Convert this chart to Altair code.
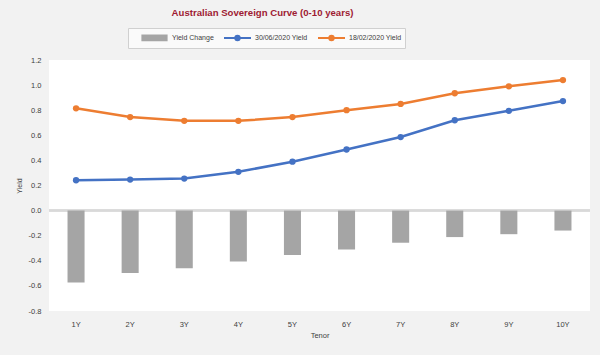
import altair as alt
import pandas as pd

tenors = ["1Y", "2Y", "3Y", "4Y", "5Y", "6Y", "7Y", "8Y", "9Y", "10Y"]
yield_jun = [0.242, 0.247, 0.255, 0.309, 0.39, 0.487, 0.586, 0.72, 0.795, 0.873]
yield_feb = [0.815, 0.745, 0.715, 0.715, 0.745, 0.80, 0.85, 0.935, 0.99, 1.04]
change = [-0.573, -0.497, -0.46, -0.406, -0.354, -0.31, -0.256, -0.211, -0.188, -0.159]
y_ticks = [-0.8, -0.6, -0.4, -0.2, 0.0, 0.2, 0.4, 0.6, 0.8, 1.0, 1.2]

series_names = ["Yield Change", "30/06/2020 Yield", "18/02/2020 Yield"]
colors = ["#A5A5A5", "#4472C4", "#ED7D31"]

rows = []
for t, c, j, f in zip(tenors, change, yield_jun, yield_feb):
    rows.append({"tenor": t, "series": series_names[0], "value": c})
    rows.append({"tenor": t, "series": series_names[1], "value": j})
    rows.append({"tenor": t, "series": series_names[2], "value": f})
df = pd.DataFrame(rows)

FONT = "Liberation Sans"
TXT = "#404040"

shape_expr = (
    "datum.value === 'Yield Change' ? 'M-2.4,-0.45H2.4V0.45H-2.4Z' : "
    "'M-2.7,0H2.7M0.42,0A0.42,0.42,0,1,1,-0.42,0A0.42,0.42,0,1,1,0.42,0Z'"
)
color_expr = (
    "datum.value === 'Yield Change' ? '#A5A5A5' : "
    "(datum.value === '30/06/2020 Yield' ? '#4472C4' : '#ED7D31')"
)

color = alt.Color(
    "series:N",
    scale=alt.Scale(domain=series_names, range=colors),
    sort=series_names,
    legend=alt.Legend(
        title=None,
        orient="none",
        legendX=79,
        legendY=-32,
        direction="horizontal",
        columns=3,
        columnPadding=-11,
        padding=3,
        fillColor="#FAFAFA",
        strokeColor="#D0D0D0",
        labelFont=FONT,
        labelFontSize=7,
        labelColor=TXT,
        labelOffset=11,
        labelExpr="datum.label === '18/02/2020 Yield' ? datum.label + '  ' : datum.label",
        symbolSize=100,
        symbolOffset=17,
        symbolType={"expr": shape_expr},
        symbolFillColor={"expr": color_expr},
        symbolStrokeColor={"expr": color_expr},
        symbolStrokeWidth=2.2,
        symbolOpacity=1,
    ),
)

x = alt.X(
    "tenor:N",
    sort=tenors,
    scale=alt.Scale(paddingInner=0.685, paddingOuter=0.3425),
    axis=alt.Axis(
        title="Tenor",
        labelAngle=0,
        ticks=False,
        domain=False,
        grid=False,
        labelFont=FONT,
        labelFontSize=7.5,
        labelColor=TXT,
        labelPadding=9,
        titleFont=FONT,
        titleFontSize=7.5,
        titleFontWeight="normal",
        titleColor=TXT,
        titlePadding=4,
    ),
)

y_scale = alt.Scale(domain=[-0.8, 1.2], nice=False, zero=False)
y_axis = alt.Axis(
    title="Yield",
    values=y_ticks,
    labelExpr="replace(format(datum.value, '.1f'), '\u2212', '-')",
    labelOverlap=False,
    ticks=False,
    domain=False,
    gridColor="#E8E8E8",
    gridWidth=1,
    labelFont=FONT,
    labelFontSize=7.5,
    labelColor=TXT,
    labelPadding=8,
    titleFont=FONT,
    titleFontSize=7,
    titleFontWeight="normal",
    titleColor=TXT,
    titlePadding=6,
)
y = alt.Y("value:Q", scale=y_scale, axis=y_axis, title="Yield")

base = alt.Chart(df)

zero = alt.Chart(df).mark_rule(color="#D9D9D9", strokeWidth=1.5).encode(
    y=alt.Y(datum=0, scale=y_scale, axis=y_axis, title="Yield")
)

bars = base.transform_filter(alt.datum.series == "Yield Change").mark_bar().encode(
    x=x, y=y, color=color
)

lines = base.transform_filter(alt.datum.series != "Yield Change").mark_line(
    strokeWidth=2.5,
    point=alt.OverlayMarkDef(filled=True, size=40, opacity=1),
).encode(x=x, y=y, color=color)

chart = (
    alt.layer(zero, bars, lines)
    .properties(
        width=541,
        height=251,
        autosize=alt.AutoSizeParams(type="none"),
        padding={"left": 49, "top": 60, "right": 10, "bottom": 44},
        background="#F2F2F2",
        title=alt.TitleParams(
            text="Australian Sovereign Curve (0-10 years)",
            anchor="middle",
            frame="group",
            offset=10,
            dx=-57,
            font=FONT,
            fontSize=9.6,
            fontWeight="bold",
            color="#9E1B32",
        ),
    )
    .configure_view(fill="white", stroke=None)
)

chart.save("out.html", embed_options={"renderer": "svg", "actions": False})
